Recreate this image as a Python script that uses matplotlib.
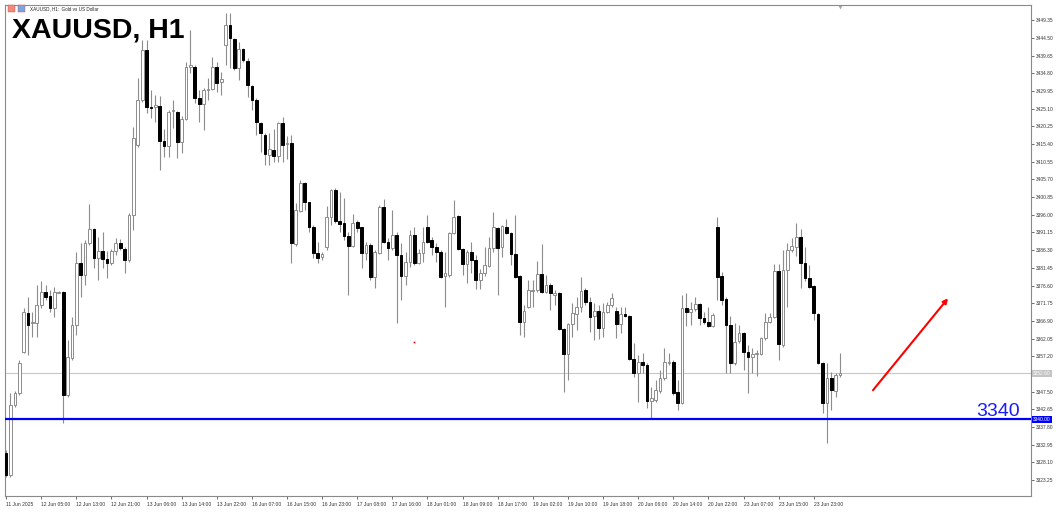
import matplotlib
matplotlib.use('Agg')
import matplotlib.pyplot as plt
from matplotlib.patches import Rectangle
import numpy as np

plt.rcParams['font.family'] = ['Liberation Sans', 'DejaVu Sans']

# XAUUSD H1 bars, 11 Jun 20:00 .. 24 Jun 04:00
opens = [
    3330.7, 3324.6, 3343.8, 3347.1, 3358.4, 3369.0, 3366.3, 3366.3, 3371.2, 3374.8,
    3373.7, 3370.4, 3374.6, 3374.8, 3346.6, 3356.7, 3365.8, 3382.7, 3379.5, 3388.2,
    3392.1, 3384.1, 3386.0, 3383.8, 3382.7, 3386.0, 3388.2, 3386.6, 3383.6, 3395.9,
    3415.1, 3427.4, 3441.1, 3425.5, 3425.5, 3425.8, 3416.2, 3414.8, 3424.4, 3424.1,
    3415.9, 3422.2, 3436.5, 3436.5, 3428.0, 3426.3, 3430.2, 3430.4, 3436.5, 3432.4,
    3442.5, 3448.0, 3444.1, 3436.2, 3441.4, 3438.1, 3431.3, 3427.4, 3421.1, 3417.8,
    3412.3, 3413.7, 3412.1, 3421.1, 3415.4, 3415.6, 3388.0, 3397.0, 3404.7, 3399.5,
    3392.6, 3385.5, 3384.4, 3387.1, 3395.4, 3402.8, 3394.3, 3393.7, 3390.1, 3387.4,
    3394.0, 3392.6, 3385.5, 3387.7, 3378.9, 3385.5, 3398.1, 3388.5, 3386.9, 3390.4,
    3384.9, 3379.2, 3383.0, 3390.4, 3382.7, 3385.5, 3392.6, 3389.1, 3387.1, 3385.8,
    3379.2, 3379.5, 3391.0, 3395.6, 3386.6, 3382.5, 3385.8, 3383.6, 3378.1, 3380.0,
    3381.9, 3386.9, 3392.3, 3387.1, 3392.6, 3391.0, 3385.2, 3379.2, 3366.6, 3370.7,
    3375.1, 3375.3, 3379.7, 3374.8, 3376.7, 3374.0, 3374.5, 3364.7, 3357.8, 3366.0,
    3368.8, 3370.7, 3375.3, 3372.1, 3368.2, 3369.6, 3364.9, 3369.3, 3371.2, 3369.6,
    3366.0, 3368.8, 3368.2, 3356.4, 3352.6, 3355.6, 3354.8, 3344.9, 3345.2, 3347.7,
    3351.2, 3355.3, 3355.6, 3347.4, 3344.4, 3370.4, 3369.3, 3370.1, 3371.5, 3367.7,
    3366.6, 3365.5, 3392.6, 3379.2, 3372.9, 3365.8, 3355.3, 3361.4, 3363.6, 3358.3,
    3357.0, 3357.8, 3357.8, 3362.2, 3366.6, 3367.9, 3380.5, 3360.3, 3380.8, 3386.3,
    3387.1, 3389.9, 3382.7, 3378.6, 3376.4, 3368.8, 3355.3, 3344.4, 3351.2, 3347.7, 3352.0,
]
highs = [
    3331.5, 3347.1, 3347.7, 3356.2, 3370.4, 3373.4, 3369.3, 3376.7, 3377.8, 3376.7,
    3375.3, 3376.2, 3375.1, 3375.1, 3361.6, 3367.9, 3385.8, 3388.2, 3389.1, 3398.9,
    3392.3, 3389.9, 3391.2, 3386.0, 3386.6, 3389.6, 3389.3, 3387.1, 3396.5, 3420.0,
    3433.5, 3443.9, 3443.9, 3430.2, 3428.8, 3428.5, 3419.5, 3424.7, 3427.4, 3424.4,
    3423.0, 3437.8, 3446.6, 3437.0, 3430.2, 3430.7, 3433.5, 3439.2, 3437.8, 3435.1,
    3451.3, 3451.3, 3444.4, 3443.3, 3441.7, 3438.9, 3431.5, 3428.0, 3421.4, 3418.4,
    3418.4, 3419.5, 3421.4, 3422.8, 3417.6, 3417.8, 3399.2, 3405.5, 3405.0, 3399.5,
    3393.2, 3388.5, 3385.8, 3398.4, 3403.0, 3403.3, 3402.2, 3400.6, 3391.2, 3396.2,
    3394.5, 3392.6, 3388.5, 3388.2, 3386.3, 3398.6, 3400.3, 3389.6, 3397.3, 3391.2,
    3388.2, 3385.8, 3391.8, 3392.6, 3386.6, 3392.6, 3395.9, 3389.9, 3388.2, 3386.3,
    3385.8, 3391.2, 3400.0, 3395.9, 3386.9, 3386.3, 3388.5, 3384.9, 3381.1, 3387.1,
    3389.9, 3396.7, 3392.6, 3393.2, 3394.8, 3391.2, 3395.9, 3379.5, 3371.2, 3378.1,
    3378.1, 3383.3, 3388.0, 3379.5, 3377.3, 3375.3, 3374.8, 3364.9, 3366.3, 3371.8,
    3373.4, 3378.9, 3375.9, 3373.4, 3371.8, 3371.2, 3371.8, 3372.1, 3374.5, 3370.7,
    3370.7, 3370.7, 3368.5, 3360.8, 3357.5, 3358.1, 3355.3, 3348.8, 3350.7, 3353.4,
    3359.4, 3358.1, 3356.2, 3350.7, 3374.0, 3374.5, 3372.1, 3373.4, 3371.8, 3369.3,
    3370.7, 3369.0, 3395.4, 3380.3, 3373.4, 3368.2, 3366.3, 3365.8, 3363.8, 3360.3,
    3359.4, 3358.9, 3362.5, 3369.0, 3369.0, 3382.5, 3382.5, 3386.3, 3388.2, 3389.6,
    3393.7, 3392.1, 3387.1, 3382.2, 3376.7, 3369.0, 3355.6, 3355.3, 3352.9, 3352.6, 3358.1,
]
lows = [
    3324.1, 3324.1, 3343.3, 3346.6, 3358.1, 3357.5, 3362.5, 3362.5, 3370.4, 3372.6,
    3369.3, 3367.9, 3374.5, 3338.9, 3346.0, 3356.2, 3363.0, 3373.4, 3376.7, 3387.7,
    3381.4, 3378.1, 3381.4, 3378.6, 3382.2, 3384.9, 3386.3, 3380.0, 3383.0, 3391.8,
    3414.5, 3426.9, 3423.9, 3422.5, 3421.4, 3408.2, 3411.8, 3411.8, 3419.7, 3411.5,
    3412.9, 3421.9, 3434.8, 3426.6, 3421.4, 3419.2, 3427.4, 3430.2, 3429.6, 3428.8,
    3437.0, 3436.2, 3435.6, 3432.9, 3437.8, 3428.3, 3424.7, 3417.8, 3413.2, 3409.6,
    3409.6, 3410.4, 3410.4, 3410.4, 3411.3, 3382.7, 3387.4, 3396.7, 3397.3, 3391.2,
    3384.1, 3382.7, 3383.6, 3386.3, 3393.2, 3393.7, 3391.2, 3389.1, 3373.9, 3387.1,
    3391.2, 3381.4, 3383.6, 3378.1, 3375.9, 3385.2, 3388.2, 3383.6, 3386.3, 3366.3,
    3372.6, 3376.7, 3381.7, 3382.2, 3382.5, 3383.0, 3388.2, 3384.9, 3383.0, 3378.6,
    3370.7, 3378.9, 3390.7, 3386.3, 3379.5, 3377.3, 3380.0, 3375.6, 3375.6, 3379.2,
    3381.7, 3385.8, 3373.9, 3384.4, 3390.7, 3382.2, 3378.6, 3363.0, 3362.5, 3370.4,
    3370.7, 3374.8, 3374.5, 3374.5, 3369.9, 3371.2, 3364.4, 3347.4, 3350.7, 3362.5,
    3364.4, 3369.3, 3371.2, 3363.8, 3361.6, 3361.9, 3362.5, 3369.0, 3370.7, 3362.2,
    3363.6, 3367.9, 3356.2, 3351.5, 3344.6, 3352.6, 3343.0, 3340.3, 3344.6, 3347.1,
    3350.7, 3354.8, 3346.6, 3342.5, 3344.1, 3365.5, 3365.8, 3369.6, 3365.8, 3366.0,
    3365.2, 3365.2, 3372.6, 3371.2, 3352.6, 3352.6, 3354.8, 3360.8, 3353.4, 3347.1,
    3352.6, 3351.8, 3357.5, 3361.6, 3366.3, 3367.6, 3356.2, 3359.7, 3370.7, 3385.8,
    3384.7, 3375.9, 3377.8, 3375.9, 3367.1, 3355.1, 3341.6, 3333.4, 3342.5, 3346.0, 3351.5,
]
closes = [
    3324.6, 3343.8, 3347.1, 3355.3, 3369.3, 3365.8, 3366.6, 3371.2, 3374.8, 3373.4,
    3370.4, 3374.8, 3374.9, 3346.6, 3357.0, 3365.8, 3382.7, 3379.5, 3388.2, 3392.1,
    3384.1, 3386.0, 3383.8, 3382.7, 3386.0, 3388.2, 3386.9, 3383.6, 3395.9, 3417.0,
    3427.4, 3441.1, 3425.5, 3425.2, 3426.0, 3416.2, 3414.8, 3424.1, 3424.7, 3415.9,
    3422.2, 3436.5, 3437.0, 3428.0, 3426.3, 3430.2, 3430.4, 3436.5, 3432.1, 3433.2,
    3448.0, 3444.4, 3436.2, 3441.4, 3438.4, 3431.5, 3427.4, 3421.4, 3418.4, 3412.6,
    3414.0, 3412.1, 3421.1, 3415.1, 3415.6, 3388.2, 3397.3, 3404.7, 3399.5, 3392.6,
    3385.5, 3384.1, 3385.2, 3395.4, 3402.8, 3394.3, 3393.4, 3390.1, 3387.4, 3393.7,
    3392.3, 3385.5, 3387.7, 3378.9, 3385.8, 3398.1, 3388.5, 3386.9, 3390.4, 3384.9,
    3379.2, 3383.0, 3390.4, 3382.7, 3385.5, 3388.5, 3388.5, 3387.1, 3385.8, 3378.9,
    3380.0, 3391.0, 3395.4, 3386.6, 3382.5, 3385.8, 3383.6, 3378.1, 3380.0, 3382.2,
    3386.9, 3392.6, 3386.9, 3392.9, 3391.0, 3385.2, 3378.9, 3366.6, 3369.6, 3375.3,
    3375.3, 3379.7, 3374.8, 3376.7, 3374.5, 3374.5, 3364.7, 3357.8, 3366.0, 3369.0,
    3370.7, 3375.1, 3372.1, 3367.9, 3369.6, 3364.9, 3369.3, 3371.2, 3373.1, 3366.0,
    3368.8, 3368.2, 3356.4, 3352.6, 3355.6, 3354.8, 3344.9, 3345.7, 3347.9, 3351.2,
    3355.6, 3355.6, 3347.1, 3344.4, 3370.4, 3369.3, 3370.1, 3371.5, 3367.7, 3366.6,
    3365.5, 3368.5, 3378.9, 3372.6, 3365.8, 3355.3, 3361.1, 3363.6, 3358.3, 3357.0,
    3357.8, 3358.1, 3362.2, 3366.6, 3367.9, 3380.5, 3360.5, 3380.8, 3386.3, 3387.4,
    3389.9, 3382.7, 3378.6, 3376.2, 3369.0, 3355.3, 3344.4, 3351.2, 3347.9, 3352.0, 3352.6,
]

# time axis labels, one every 8 bars
tick_labels = ['11 Jun 2025', '12 Jun 05:00', '12 Jun 13:00', '12 Jun 21:00', '13 Jun 06:00',
               '13 Jun 14:00', '13 Jun 22:00', '16 Jun 07:00', '16 Jun 15:00', '16 Jun 23:00',
               '17 Jun 08:00', '17 Jun 16:00', '18 Jun 01:00', '18 Jun 09:00', '18 Jun 17:00',
               '19 Jun 02:00', '19 Jun 10:00', '19 Jun 18:00', '20 Jun 06:00', '20 Jun 14:00',
               '20 Jun 22:00', '23 Jun 07:00', '23 Jun 15:00', '23 Jun 23:00']
tick_step = 8

price_ticks = [3323.25, 3328.10, 3332.95, 3337.80, 3342.65, 3347.50, 3352.35, 3357.20,
               3362.05, 3366.90, 3371.75, 3376.60, 3381.45, 3386.30, 3391.15, 3396.00,
               3400.85, 3405.70, 3410.55, 3415.40, 3420.25, 3425.10, 3429.95, 3434.80,
               3439.65, 3444.50, 3449.35]

level = 3340.0            # blue support line
bid = closes[-1]          # grey current price line
arrow_start = (197.5, 3347.9)
arrow_end = (214.6, 3373.1)
red_dot = (92.9, 3361.1)

W, H = 1056, 512
fig = plt.figure(figsize=(W / 100, H / 100), dpi=100)
ax = fig.add_axes([5 / W, 1 - 496 / H, 1026 / W, 491 / H])
ax.set_xlim(-0.25, 233.5)
ax.set_ylim(3318.9, 3453.5)

o = np.array(opens)
h = np.array(highs)
l = np.array(lows)
c = np.array(closes)
x = np.arange(len(c))
up = c >= o
bottom = np.minimum(o, c)
height = np.abs(c - o)

wick = '#8c8c8c'
ax.vlines(x, l, h, color=wick, lw=0.8, zorder=2)
ax.bar(x[up], height[up], bottom=bottom[up], width=0.62, facecolor='white',
       edgecolor=wick, linewidth=0.7, zorder=3)
ax.bar(x[~up], height[~up], bottom=bottom[~up], width=0.62, facecolor='black',
       edgecolor='black', linewidth=0.7, zorder=3)

# horizontal lines
ax.axhline(bid, color='#c8c8c8', lw=0.8, zorder=1)
ax.axhline(level, color='#0000ff', lw=1.6, zorder=4)

trans = ax.get_yaxis_transform()
ax.text(1.002, level, f'{level:.2f}', transform=trans, ha='left', va='center',
        fontsize=3.5, color='white', clip_on=False, zorder=6,
        bbox=dict(boxstyle='square,pad=0.2', fc='#0000ff', ec='none'))
ax.text(1.002, bid, f'{bid:.2f}', transform=trans, ha='left', va='center',
        fontsize=3.5, color='white', clip_on=False, zorder=6,
        bbox=dict(boxstyle='square,pad=0.2', fc='#c4c4c4', ec='none'))
ax.text(0.989, level + 0.8, f'{level:.0f}', transform=trans, ha='right',
        va='baseline', fontsize=14, color='#1a1aff', zorder=6)

# drawings
ax.annotate('', xy=arrow_end, xytext=arrow_start,
            arrowprops=dict(arrowstyle='-|>', color='#ff0000', lw=1.5,
                            mutation_scale=7, shrinkA=0, shrinkB=0))
ax.plot(*red_dot, marker='s', ms=1.2, color='#e00000', mew=0)
ax.plot(x[-1], 3453.0, marker='v', ms=3, color='#a8a8a8', mew=0, clip_on=False)

# axes styling
for s in ax.spines.values():
    s.set_color('#8a8a8a')
    s.set_linewidth(0.8)
ax.yaxis.tick_right()
ax.set_yticks(price_ticks)
# the bid tag covers the scale label right next to it
ax.set_yticklabels(['' if abs(p - bid) < 2.0 else f'{p:.2f}' for p in price_ticks])
ax.set_xticks(x[::tick_step][:len(tick_labels)])
ax.set_xticklabels(tick_labels, ha='left')
ax.tick_params(axis='y', length=2.5, width=0.6, color='#555555', pad=1,
               labelsize=3.5, labelcolor='#333333')
ax.tick_params(axis='x', length=2.5, width=0.6, color='#555555', pad=1.5,
               labelsize=3.6, labelcolor='#333333')

# header and title
fig.add_artist(Rectangle((8 / W, 1 - 12 / H), 7 / W, 7 / H, transform=fig.transFigure,
                         fc='#ef8a7c', ec='#c05040', lw=0.3))
fig.add_artist(Rectangle((18 / W, 1 - 12 / H), 7 / W, 7 / H, transform=fig.transFigure,
                         fc='#7aa6e0', ec='#e04040', lw=0.3))
fig.text(30 / W, 1 - 8.5 / H, 'XAUUSD, H1:  Gold vs US Dollar', fontsize=3.3,
         va='center', color='#222222')
fig.text(12 / W, 1 - 38 / H, 'XAUUSD, H1', fontsize=20.5, fontweight='bold',
         va='baseline', color='black')

fig.savefig('out.png', dpi=100)
